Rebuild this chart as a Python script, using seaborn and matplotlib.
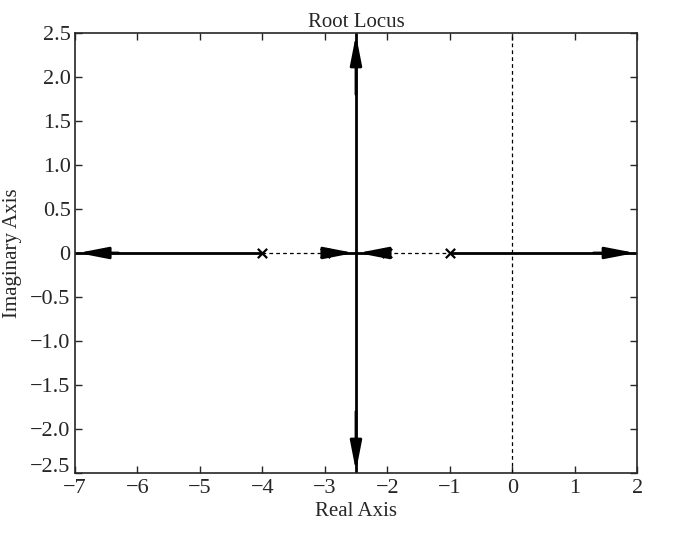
import numpy as np
import pandas as pd
import matplotlib.pyplot as plt
import matplotlib.transforms as mtransforms
import seaborn as sns

# open-loop poles (no zeros)
poles = [-4, -3, -2, -1]
breakaway = -2.5
x_lim = [-7, 2]
y_lim = [-2.5, 2.5]
x_ticks = [-7, -6, -5, -4, -3, -2, -1, 0, 1, 2]
y_ticks = [-2.5, -2.0, -1.5, -1.0, -0.5, 0, 0.5, 1.0, 1.5, 2.0, 2.5]
y_tick_labels = ['\u22122.5', '\u22122.0', '\u22121.5', '\u22121.0', '\u22120.5', '0',
                 '0.5', '1.0', '1.5', '2.0', '2.5']
x_tick_labels = ['\u22127', '\u22126', '\u22125', '\u22124', '\u22123', '\u22122', '\u22121',
                 '0', '1', '2']

sns.set_style('ticks')
plt.rcParams['font.family'] = ['Liberation Serif', 'DejaVu Serif']

fig = plt.figure(figsize=(6.8, 5.4), dpi=100)
ax = fig.add_axes([0.110, 0.124, 0.827, 0.815])

# solid locus branches on the real axis
solid = pd.DataFrame({
    'x': [x_lim[0], poles[0], poles[1], breakaway, poles[2], breakaway, poles[3], x_lim[1]],
    'y': [0] * 8,
    'seg': ['a', 'a', 'b', 'b', 'c', 'c', 'd', 'd'],
})
for seg, d in solid.groupby('seg'):
    sns.lineplot(data=d, x='x', y='y', ax=ax, color='black', lw=2.0, sort=False, estimator=None)

# vertical branch from breakaway point
vert = pd.DataFrame({'x': [breakaway, breakaway], 'y': y_lim})
sns.lineplot(data=vert, x='x', y='y', ax=ax, color='black', lw=2.0, sort=False, estimator=None)

# dashed segments between poles and imaginary axis
dashed = pd.DataFrame({'x': [poles[0], poles[1], poles[2], poles[3]], 'y': [0, 0, 0, 0],
                       'seg': ['e', 'e', 'f', 'f']})
for seg, d in dashed.groupby('seg'):
    sns.lineplot(data=d, x='x', y='y', ax=ax, color='black', lw=0.9, ls=(0, (3, 2.5)),
                 sort=False, estimator=None)
ax.axvline(0, color='black', lw=0.9, ls=(0, (3, 2.5)))

# pole markers
sns.scatterplot(x=poles, y=[0] * len(poles), ax=ax, marker='x', color='black', s=45,
                linewidth=1.6, zorder=5)

# direction arrows
arrow_kw = dict(arrowstyle='-|>,head_length=1.8,head_width=0.35', color='black', lw=2.0,
                shrinkA=0, shrinkB=0)
arrows = [((-6.3, 0), (-6.95, 0)), ((1.3, 0), (1.97, 0)),
          ((-2.85, 0), (-2.53, 0)), ((-2.15, 0), (-2.47, 0)),
          ((breakaway, 1.8), (breakaway, 2.48)), ((breakaway, -1.8), (breakaway, -2.48))]
for start, end in arrows:
    ax.annotate('', xy=end, xytext=start, arrowprops=arrow_kw, zorder=6)

ax.set_xlim(x_lim)
ax.set_ylim(y_lim)
ax.set_xticks(x_ticks)
ax.set_xticklabels(x_tick_labels)
ax.set_yticks(y_ticks)
ax.set_yticklabels(y_tick_labels)
ax.tick_params(direction='in', length=5, width=1, labelsize=16, top=True, right=True)
ax.tick_params(axis='x', pad=4)
ax.tick_params(axis='y', pad=3)
for sp in ax.spines.values():
    sp.set_linewidth(1.2)
    sp.set_visible(True)

# nudge the bottom y label up a little so it clears the "-7"
lab = ax.get_yticklabels()[0]
lab.set_transform(lab.get_transform() + mtransforms.ScaledTranslation(0, 6 / 72, fig.dpi_scale_trans))

ax.set_title('Root Locus', fontsize=15, pad=4)
ax.set_xlabel('Real Axis', fontsize=15, labelpad=3)
ax.set_ylabel('Imaginary Axis', fontsize=15, labelpad=6)

fig.savefig('out.png', dpi=100)
